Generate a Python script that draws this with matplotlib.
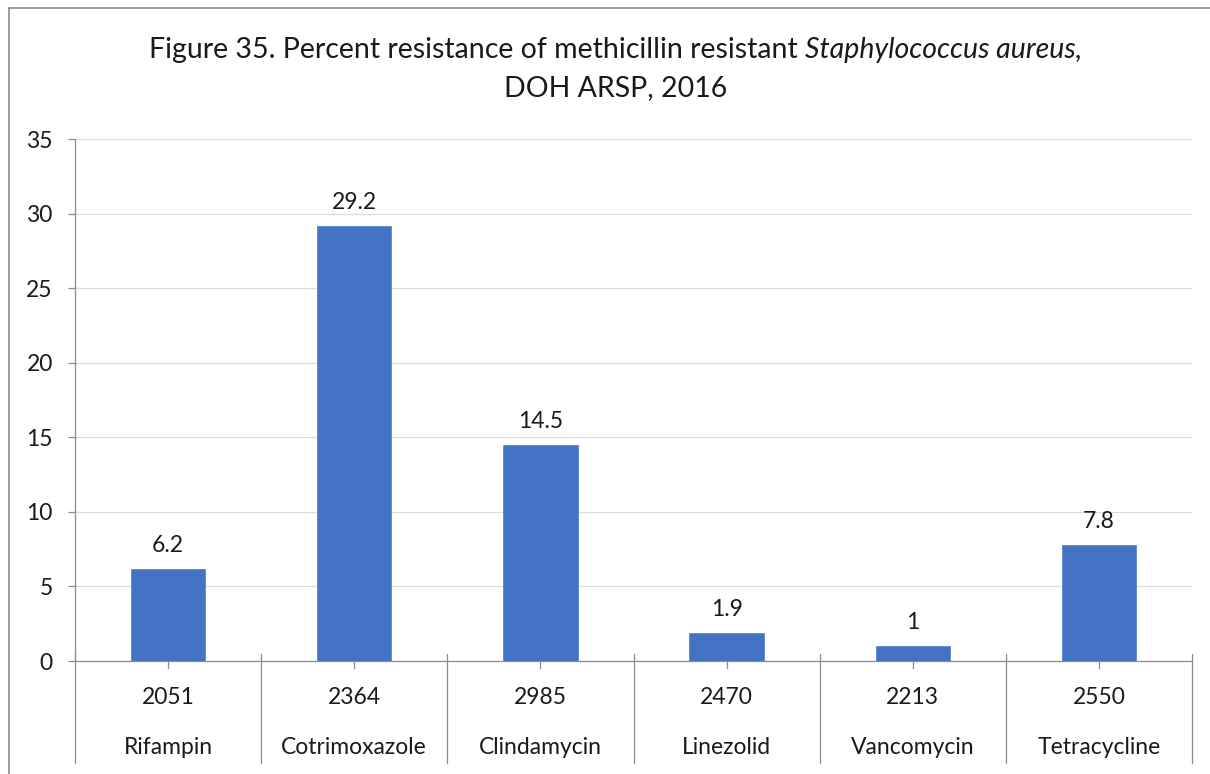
import matplotlib
matplotlib.use("Agg")
import matplotlib.pyplot as plt
from matplotlib.lines import Line2D

# Data
drugs = ["Rifampin", "Cotrimoxazole", "Clindamycin", "Linezolid", "Vancomycin", "Tetracycline"]
isolates = ["2051", "2364", "2985", "2470", "2213", "2550"]
resistance = [6.2, 29.2, 14.5, 1.9, 1.0, 7.8]
value_labels = ["6.2", "29.2", "14.5", "1.9", "1", "7.8"]
y_ticks = [0, 5, 10, 15, 20, 25, 30, 35]

FONT = "Lato"
TXT = "#1a1a1a"
GRAY = "#8c8c8c"
BAR = "#4472C4"
FS = 16.5

plt.rcParams["font.family"] = FONT

W, H = 1210, 774
fig = plt.figure(figsize=(W / 100, H / 100), dpi=100)

def fx(px):
    return px / W

def fy(py):
    return 1 - py / H

ax = fig.add_axes([fx(75), fy(661), fx(1192) - fx(75), fy(139) - fy(661)])

n = len(drugs)
x = list(range(n))
ax.bar(x, resistance, width=0.4, color=BAR, edgecolor="#5b86d0", linewidth=0.6, zorder=3)
ax.set_xlim(-0.5, n - 0.5)
ax.set_ylim(0, 35)
ax.set_yticks(y_ticks)
ax.set_yticklabels([str(t) for t in y_ticks], fontsize=FS, color=TXT)
ax.tick_params(axis="y", length=5, width=0.9, color=GRAY, pad=11, direction="out")
ax.set_xticks([])
ax.yaxis.grid(True, color="#c8c8c8", linewidth=0.9, linestyle=(0, (1, 0.6)), zorder=0)
ax.set_axisbelow(True)

for s in ["top", "right"]:
    ax.spines[s].set_visible(False)
ax.spines["left"].set_color(GRAY)
ax.spines["left"].set_linewidth(0.9)
ax.spines["bottom"].set_color(GRAY)
ax.spines["bottom"].set_linewidth(0.9)

# Value labels above bars
for xi, v, lab in zip(x, resistance, value_labels):
    ax.annotate(lab, (xi, v), xytext=(0, 12), textcoords="offset points",
                ha="center", va="baseline", fontsize=FS, color=TXT)

# Two-level category axis: isolate counts and drug names with separators
xt = ax.get_xaxis_transform()
sep_top = 7 / 522
sep_bot = -102 / 522
for b in [i - 0.5 for i in range(n + 1)]:
    ax.add_line(Line2D([b, b], [sep_top, sep_bot], transform=xt, color=GRAY,
                       linewidth=0.9, clip_on=False))
for xi in x:
    ax.add_line(Line2D([xi, xi], [sep_top, -sep_top], transform=xt, color=GRAY,
                       linewidth=0.9, clip_on=False))
for xi, cnt, name in zip(x, isolates, drugs):
    ax.text(xi, -36 / 522, cnt, transform=xt, ha="center", va="center",
            fontsize=FS, color=TXT)
    ax.text(xi, -86 / 522, name, transform=xt, ha="center", va="center",
            fontsize=FS, color=TXT)

# Title with italic species name
fig.canvas.draw()
renderer = fig.canvas.get_renderer()
parts = [("Figure 35. Percent resistance of methicillin resistant ", "normal"),
         ("Staphylococcus aureus,", "italic")]
tsize = 20.5
objs = []
for s, style in parts:
    t = fig.text(0, fy(50), s, fontsize=tsize, style=style, color=TXT,
                 ha="left", va="center")
    objs.append(t)
widths = [t.get_window_extent(renderer).width for t in objs]
x0 = 615.5 - sum(widths) / 2
for t, w in zip(objs, widths):
    t.set_x(fx(x0))
    x0 += w
fig.text(fx(615.5), fy(88), "DOH ARSP, 2016", fontsize=tsize, color=TXT,
         ha="center", va="center")

# Chart area border (top and left edges)
fig.add_artist(Line2D([fx(9), 1], [fy(8), fy(8)], color="#8a8a8a", linewidth=1.2))
fig.add_artist(Line2D([fx(9), fx(9)], [fy(8), 0], color="#8a8a8a", linewidth=1.2))

fig.savefig("out.png", dpi=100)
